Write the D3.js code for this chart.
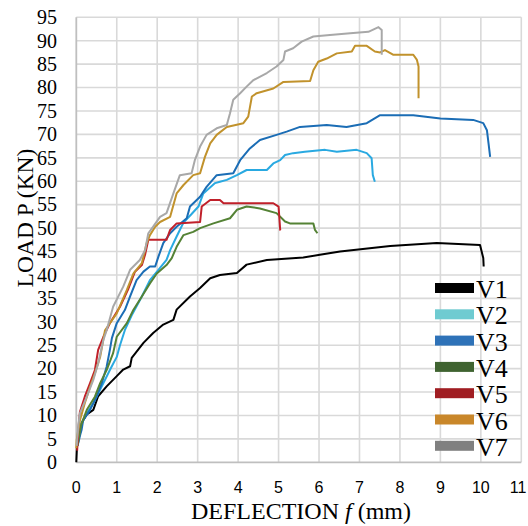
<!DOCTYPE html>
<html>
<head>
<meta charset="utf-8">
<script src="https://cdn.jsdelivr.net/npm/d3@7"></script>
<style>
  body { margin: 0; background: #fff; }
  svg { display: block; }
</style>
</head>
<body>
<svg id="chart" width="528" height="526"></svg>
<script>
// series names
const names = ["V1", "V2", "V3", "V4", "V5", "V6", "V7"];

// deflection (mm), load (kN)
const v1 = [[0,0],[0.02,4],[0.13,8.4],[0.26,10.2],[0.42,11.2],[0.54,14.1],[0.75,16.2],[1.0,18.4],[1.16,19.8],[1.33,20.5],[1.37,22.3],[1.66,25.5],[1.9,27.6],[2.15,29.4],[2.4,30.4],[2.48,32.6],[2.81,35.4],[3.06,37.2],[3.31,39.3],[3.55,40.0],[3.97,40.4],[4.21,42.2],[4.71,43.2],[5.61,43.7],[6.02,44.3],[6.52,45],[7.76,46.2],[8.91,46.8],[9.98,46.4],[10.06,43.6],[10.07,41.8]];
const v2 = [[0.03,3.5],[0.08,6],[0.13,8.3],[0.26,10.5],[0.42,12.6],[0.54,14.7],[0.67,16.9],[0.83,19.7],[1.0,22.5],[1.08,25],[1.2,28.2],[1.37,31.4],[1.62,35.4],[1.82,38.9],[2.03,41.1],[2.23,43.2],[2.32,45.3],[2.48,48.2],[2.65,51.2],[2.85,53],[3.02,54.6],[3.14,57.4],[3.43,59.6],[3.55,59.9],[3.72,60.3],[3.97,61.3],[4.21,62.4],[4.71,62.4],[4.87,63.8],[5.04,64.5],[5.16,65.6],[5.36,66.0],[5.65,66.3],[6.15,66.7],[6.44,66.3],[6.93,66.7],[7.18,66.0],[7.3,64.9],[7.33,61.3],[7.38,59.9]];
const v3 = [[0.03,3.5],[0.1,6],[0.13,6.9],[0.17,9.0],[0.34,11.2],[0.5,14],[0.63,16.9],[0.75,20.4],[0.83,24],[0.88,26.5],[1.0,29.7],[1.2,32.5],[1.33,35.4],[1.49,38.9],[1.66,40.7],[1.82,41.8],[1.95,41.8],[2.03,43.9],[2.15,46.8],[2.32,48.9],[2.48,50.3],[2.73,52.1],[2.81,54.6],[3.06,56.7],[3.22,58.8],[3.47,61.3],[3.88,61.7],[4.05,64.5],[4.29,67.0],[4.54,68.8],[4.95,69.9],[5.2,70.6],[5.53,71.6],[6.19,72.0],[6.68,71.6],[7.18,72.4],[7.51,74.1],[8.33,74.1],[9.0,73.4],[9.81,73.1],[10.06,72.4],[10.15,70.9],[10.19,68.1],[10.23,65.2]];
const v4 = [[0.03,3.5],[0.12,8],[0.26,11.2],[0.46,14],[0.59,16.9],[0.75,19.7],[0.91,23.3],[1.0,26.8],[1.25,29.7],[1.41,32.5],[1.62,35.4],[1.82,38.2],[1.99,40.3],[2.23,42.1],[2.36,43.6],[2.48,46.0],[2.65,48.5],[2.89,49.2],[3.06,50.0],[3.39,51.0],[3.8,52.1],[3.97,53.9],[4.21,54.6],[4.54,54.2],[4.95,53.2],[5.16,51.4],[5.28,51.0],[5.86,51.0],[5.9,49.6],[5.96,48.9]];
const v5 = [[0.02,2.5],[0.05,7],[0.09,10.8],[0.21,14],[0.34,16.9],[0.46,19.7],[0.54,24],[0.67,26.8],[0.83,29.7],[1.08,33.2],[1.29,37.1],[1.45,40.7],[1.62,42.1],[1.7,44.3],[1.78,47.5],[2.23,47.5],[2.32,49.6],[2.48,51.0],[3.06,51.3],[3.1,54.6],[3.31,56.0],[3.55,56.0],[3.64,55.3],[4.87,55.3],[5.0,54.6],[5.04,49.6],[5.05,49.5]];
const v6 = [[0,3],[0.01,4.8],[0.09,9.0],[0.21,12.6],[0.34,16.1],[0.46,19.0],[0.59,22.5],[0.71,28.2],[1.0,31.8],[1.25,36.8],[1.41,40.3],[1.62,42.5],[1.74,46.8],[1.82,48.5],[1.95,50.3],[2.07,51.3],[2.32,52.4],[2.48,57.4],[2.65,59.2],[2.89,61.3],[3.06,61.7],[3.18,65.2],[3.31,68.1],[3.47,69.9],[3.72,71.6],[4.13,72.4],[4.25,73.8],[4.34,78.1],[4.46,78.8],[4.87,79.8],[5.12,81.2],[5.78,81.4],[5.86,83.7],[5.98,85.5],[6.19,86.2],[6.44,87.3],[6.81,87.7],[6.89,88.9],[7.18,88.9],[7.38,87.7],[7.51,87.5],[7.63,88.0],[7.84,87.0],[8.33,87.0],[8.42,85.9],[8.46,84.5],[8.46,77.7]];
const v7 = [[0.01,3.5],[0.05,8],[0.09,10.5],[0.26,14],[0.42,17.6],[0.54,21.1],[0.67,26.1],[0.75,28.2],[0.91,33.2],[1.16,37.5],[1.33,41.1],[1.57,43.2],[1.7,45.3],[1.78,48.9],[1.9,50.3],[2.07,52.4],[2.23,53.2],[2.4,57.4],[2.56,61.3],[2.85,61.7],[2.93,64.5],[3.06,67.4],[3.22,69.9],[3.47,71.3],[3.72,72.0],[3.8,74.5],[3.88,77.4],[4.05,78.8],[4.21,80.2],[4.38,81.6],[4.71,83.1],[4.95,84.5],[5.12,85.9],[5.16,87.7],[5.36,88.4],[5.57,89.8],[5.86,90.9],[6.27,91.2],[6.77,91.6],[7.22,91.9],[7.47,92.9],[7.55,92.3],[7.55,87.0]];

// tick values
const xTicks = d3.range(0, 12);
const yTicks = d3.range(0, 100, 5);

const series = [v1, v2, v3, v4, v5, v6, v7];

// line colours and (slightly different) legend swatch colours
const lineColors = ["#000000", "#29a9e1", "#1b6db5", "#548235", "#c0202a", "#c1922c", "#a8a8a8"];
const legendColors = ["#000000", "#6fcbd1", "#2e72b8", "#3f6330", "#a01d22", "#c9872a", "#808080"];

const svg = d3.select("#chart"),
  width = +svg.attr("width");

const x = d3.scaleLinear().domain([0, 11]).range([76.3, 521.3]);
const y = d3.scaleLinear().domain([0, 95]).range([462.3, 17.3]);

// grid
svg.append("g")
  .selectAll("line")
  .data(xTicks.slice(1))
  .join("line")
  .attr("x1", d => x(d)).attr("x2", d => x(d))
  .attr("y1", y(0)).attr("y2", y(95))
  .attr("stroke", "#d9d9d9").attr("stroke-width", 1.6);

svg.append("g")
  .selectAll("line")
  .data(yTicks.slice(1))
  .join("line")
  .attr("x1", x(0)).attr("x2", x(11))
  .attr("y1", d => y(d)).attr("y2", d => y(d))
  .attr("stroke", "#d9d9d9").attr("stroke-width", 1.6);

// axis lines
svg.append("line")
  .attr("x1", x(0)).attr("x2", x(11)).attr("y1", y(0)).attr("y2", y(0))
  .attr("stroke", "#bfbfbf").attr("stroke-width", 1.8);
svg.append("line")
  .attr("x1", x(0)).attr("x2", x(0)).attr("y1", y(0)).attr("y2", y(95))
  .attr("stroke", "#bfbfbf").attr("stroke-width", 1.8);

// tick labels
svg.append("g")
  .selectAll("text")
  .data(yTicks)
  .join("text")
  .attr("x", 57)
  .attr("y", d => y(d))
  .attr("dy", "0.34em")
  .attr("text-anchor", "end")
  .style("font-family", "'Liberation Serif', 'Times New Roman', serif")
  .style("font-size", "20px")
  .attr("fill", "#000")
  .text(d => d);

svg.append("g")
  .selectAll("text")
  .data(xTicks)
  .join("text")
  .attr("x", d => Math.min(x(d), width - 10)) // keep "11" inside the page
  .attr("y", 493)
  .attr("text-anchor", "middle")
  .style("font-family", "'Liberation Sans', Arial, sans-serif")
  .style("font-size", "16px")
  .attr("fill", "#000")
  .text(d => d);

// axis titles
const xt = svg.append("text")
  .attr("x", 301)
  .attr("y", 519)
  .attr("text-anchor", "middle")
  .style("font-family", "'Liberation Serif', 'Times New Roman', serif")
  .style("font-size", "24px")
  .attr("fill", "#000");
xt.append("tspan").text("DEFLECTION ");
xt.append("tspan").style("font-style", "italic").text("f");
xt.append("tspan").text(" (mm)");

svg.append("text")
  .attr("transform", "translate(33,218) rotate(-90)")
  .attr("text-anchor", "middle")
  .style("font-family", "'Liberation Serif', 'Times New Roman', serif")
  .style("font-size", "23.5px")
  .attr("fill", "#000")
  .text("LOAD P (KN)");

// curves
const line = d3.line()
  .x(d => x(d[0]))
  .y(d => y(d[1]));

svg.append("g")
  .selectAll("path")
  .data(series)
  .join("path")
  .attr("d", line)
  .attr("fill", "none")
  .attr("stroke", (d, i) => lineColors[i])
  .attr("stroke-width", 2)
  .attr("stroke-linejoin", "round");

// legend (bottom right, inside the plot)
const legend = svg.append("g")
  .selectAll("g")
  .data(names)
  .join("g")
  .attr("transform", (d, i) => `translate(435,${288 + i * 26.3})`);

legend.append("rect")
  .attr("x", 0).attr("y", -5)
  .attr("width", 39).attr("height", 10)
  .attr("fill", (d, i) => legendColors[i]);

legend.append("text")
  .attr("x", 41)
  .attr("y", 10)
  .style("font-family", "'Liberation Serif', 'Times New Roman', serif")
  .style("font-size", "26px")
  .attr("fill", "#000")
  .text(d => d);
</script>
</body>
</html>
